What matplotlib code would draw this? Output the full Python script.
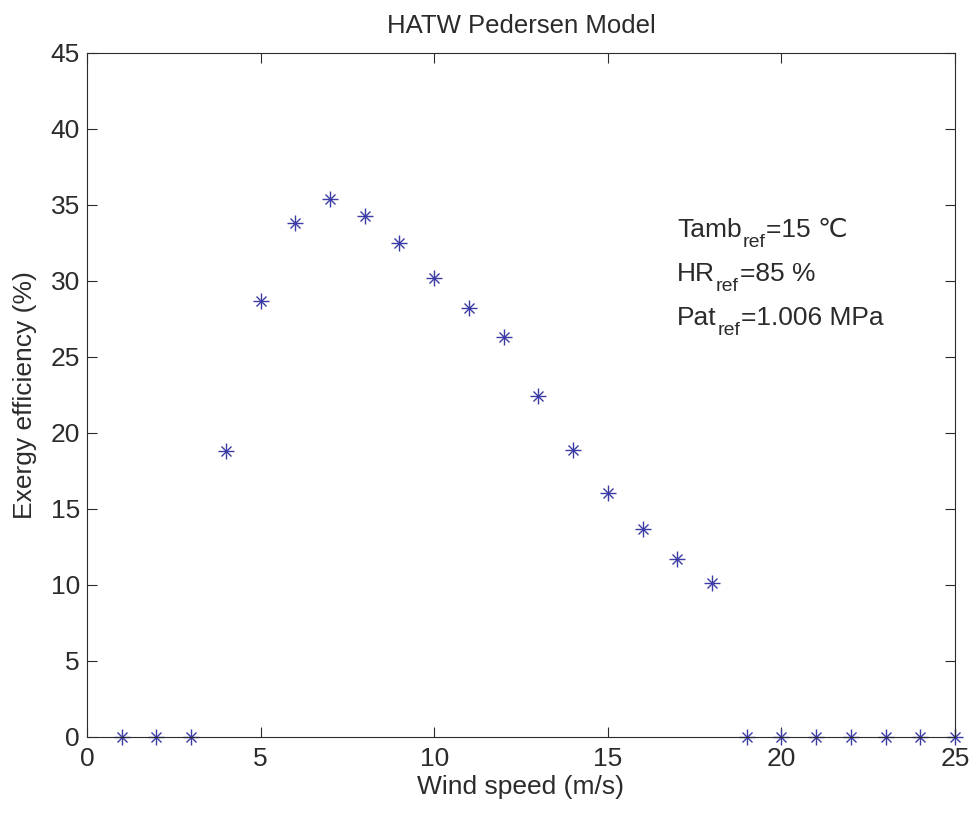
import matplotlib
matplotlib.use("Agg")
import matplotlib.pyplot as plt

# Wind speed (m/s) and exergy efficiency (%)
wind_speed = list(range(1, 26))
exergy_eff = [0, 0, 0, 18.8, 28.7, 33.8, 35.4, 34.3, 32.5, 30.2,
              28.2, 26.3, 22.4, 18.9, 16.05, 13.7, 11.7, 10.1,
              0, 0, 0, 0, 0, 0, 0]

# reference conditions shown as text: (base, subscript, rest)
ref_lines = [("Tamb", "ref", "=15 \u2103"),
             ("HR", "ref", "=85 %"),
             ("Pat", "ref", "=1.006 MPa")]

plt.rcParams["font.family"] = ["Liberation Sans", "DejaVu Sans"]
ink = "#2b2b2b"
fs = 19

fig = plt.figure(figsize=(9.75, 8.14), dpi=100)
ax = fig.add_axes([0.0892, 0.0946, 0.8903, 0.8404])

# MATLAB-like asterisk: plus + shorter cross
mc = "#3b3ba6"
ax.plot(wind_speed, exergy_eff, linestyle="none", marker="+",
        markersize=11.5, markeredgewidth=1.0, color=mc, clip_on=False)
ax.plot(wind_speed, exergy_eff, linestyle="none", marker="x",
        markersize=7.5, markeredgewidth=1.0, color=mc, clip_on=False)

ax.set_xlim(0, 25)
ax.set_ylim(0, 45)
ax.set_xticks(range(0, 26, 5))
ax.set_yticks(range(0, 46, 5))
ax.tick_params(direction="in", length=7, top=True, right=True,
               labelsize=fs, colors=ink, pad=5)
ax.tick_params(axis="x", pad=7)
for s in ax.spines.values():
    s.set_color(ink)
    s.set_linewidth(0.8)

ax.set_xlabel("Wind speed (m/s)", fontsize=fs, color=ink, labelpad=3)
ax.set_ylabel("Exergy efficiency (%)", fontsize=fs, color=ink, labelpad=10)
ax.set_title("HATW Pedersen Model", fontsize=18.5, color=ink, pad=14)

# annotation with subscripts, built piece by piece on a common baseline
x0 = 17.0
for i, (base, sub, rest) in enumerate(ref_lines):
    yb = 32.9 - 2.9 * i
    t1 = ax.text(x0, yb, base, fontsize=fs, color=ink, va="baseline")
    t2 = ax.annotate(sub, xy=(1, yb), xycoords=(t1, "data"),
                     xytext=(0.5, -7), textcoords="offset points",
                     fontsize=14, color=ink, va="baseline")
    ax.annotate(rest, xy=(1, yb), xycoords=(t2, "data"),
                xytext=(0.5, 0), textcoords="offset points",
                fontsize=fs, color=ink, va="baseline")

fig.savefig("out.png", dpi=100)
